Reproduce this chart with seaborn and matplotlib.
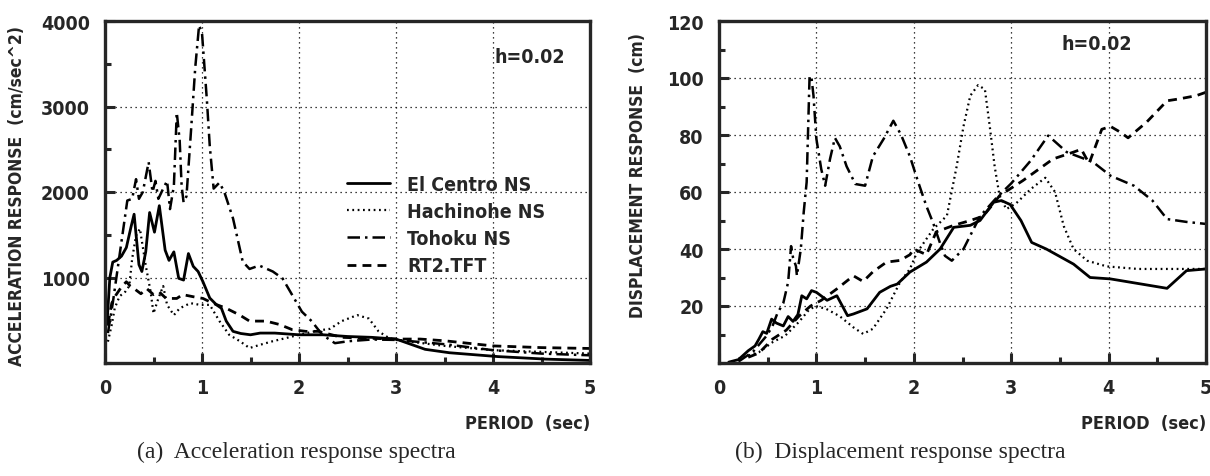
import matplotlib
matplotlib.use("Agg")
import matplotlib.pyplot as plt
from matplotlib.ticker import MultipleLocator
import seaborn as sns

# values (period in sec)
labels = ["El Centro NS", "Hachinohe NS", "Tohoku NS", "RT2.TFT"]

# --- (a) acceleration response, cm/sec^2 ---
acc_elc_t = [0.02, 0.05, 0.08, 0.12, 0.17, 0.22, 0.27, 0.3, 0.35, 0.38, 0.42, 0.46, 0.51, 0.56,
             0.62, 0.66, 0.71, 0.76, 0.81, 0.86, 0.91, 0.96, 1.01, 1.08, 1.15, 1.2, 1.25, 1.32,
             1.4, 1.5, 1.6, 1.75, 2.0, 2.25, 2.5, 2.75, 3.0, 3.1, 3.3, 3.55, 4.05, 4.55, 5.0]
acc_elc = [450, 1000, 1180, 1200, 1250, 1350, 1600, 1740, 1150, 1070, 1300, 1760, 1530, 1840,
           1320, 1200, 1300, 990, 970, 1280, 1130, 1070, 950, 760, 680, 640, 490, 370,
           345, 330, 350, 350, 330, 330, 310, 300, 280, 240, 160, 120, 75, 45, 30]

acc_hac_t = [0.03, 0.07, 0.1, 0.15, 0.21, 0.25, 0.28, 0.32, 0.36, 0.42, 0.47, 0.5, 0.55, 0.6,
             0.64, 0.71, 0.77, 0.88, 0.98, 1.08, 1.18, 1.28, 1.39, 1.49, 1.59, 1.73, 1.86, 2.0,
             2.2, 2.32, 2.44, 2.6, 2.72, 2.82, 2.93, 3.0, 3.5, 4.0, 4.5, 5.0]
acc_hac = [250, 450, 640, 780, 835, 900, 1220, 1490, 1570, 1140, 835, 580, 755, 900,
           680, 560, 640, 700, 680, 680, 490, 330, 255, 175, 210, 255, 290, 330,
           380, 400, 490, 560, 520, 370, 290, 270, 200, 150, 130, 110]

acc_toh_t = [0.03, 0.08, 0.13, 0.18, 0.23, 0.28, 0.32, 0.35, 0.39, 0.45, 0.49, 0.52, 0.55, 0.6,
             0.64, 0.67, 0.71, 0.74, 0.77, 0.79, 0.81, 0.84, 0.89, 0.93, 0.97, 1.0, 1.05, 1.08,
             1.12, 1.18, 1.23, 1.32, 1.42, 1.49, 1.59, 1.73, 1.83, 1.93, 2.03, 2.13, 2.24, 2.37,
             2.51, 2.75, 3.0, 3.5, 4.0, 4.5, 5.0]
acc_toh = [350, 700, 1100, 1500, 1900, 1920, 2150, 1920, 2000, 2350, 2000, 2130, 1920, 2040,
           2130, 1800, 2070, 2930, 2600, 2070, 1880, 1950, 2770, 3450, 3950, 3860, 3080, 2540,
           2040, 2110, 2000, 1690, 1185, 1100, 1140, 1070, 990, 795, 600, 490, 330, 232,
           255, 275, 270, 220, 150, 110, 90]

acc_rt2_t = [0.03, 0.07, 0.11, 0.17, 0.22, 0.26, 0.3, 0.37, 0.43, 0.5, 0.56, 0.63, 0.74, 0.8,
             0.91, 1.01, 1.11, 1.25, 1.39, 1.49, 1.66, 1.8, 1.93, 2.07, 2.2, 2.44, 2.7, 3.0,
             3.25, 3.5, 3.75, 4.0, 4.5, 5.0]
acc_rt2 = [450, 700, 790, 890, 950, 900, 870, 810, 870, 800, 830, 755, 755, 800,
           775, 755, 700, 640, 560, 490, 490, 450, 390, 370, 370, 300, 290, 280,
           280, 260, 230, 200, 180, 170]

# --- (b) displacement response, cm ---
dis_elc_t = [0.1, 0.2, 0.3, 0.37, 0.41, 0.45, 0.49, 0.54, 0.59, 0.66, 0.71, 0.76, 0.81, 0.85,
             0.9, 0.95, 1.0, 1.11, 1.21, 1.32, 1.38, 1.52, 1.65, 1.76, 1.83, 1.96, 2.13, 2.27,
             2.41, 2.58, 2.68, 2.82, 2.9, 2.99, 3.1, 3.21, 3.36, 3.64, 3.81, 4.02, 4.6, 4.8, 5.0]
dis_elc = [0.3, 1.2, 4.3, 6, 8.4, 11, 10.4, 15.4, 14, 13, 16.3, 14.6, 17, 23.6,
           22.5, 25.4, 24.8, 22, 23.6, 16.6, 17.2, 19, 24.8, 26.9, 27.7, 31.9, 35.4, 40,
           47.6, 48.3, 50, 56.4, 57, 55.6, 50, 42.3, 40, 34.7, 30, 29.5, 26.2, 32.4, 33]

dis_hac_t = [0.2, 0.41, 0.55, 0.68, 0.82, 0.92, 0.99, 1.1, 1.24, 1.38, 1.48, 1.58, 1.72, 1.86,
             1.96, 2.03, 2.2, 2.34, 2.44, 2.51, 2.58, 2.66, 2.73, 2.78, 2.83, 2.88, 2.95, 3.05,
             3.2, 3.35, 3.45, 3.54, 3.64, 3.78, 3.98, 4.3, 4.6, 5.0]
dis_hac = [1.5, 3.8, 7.3, 9.6, 14.4, 18.5, 20, 19, 16.4, 12.5, 10.2, 12, 19, 28.4,
           33, 38.6, 47, 51.7, 69, 83, 93.8, 97.5, 96, 83, 69, 58.7, 54, 56,
           61, 65, 60, 48, 40, 35.9, 33.9, 33, 33, 33]

dis_toh_t = [0.2, 0.35, 0.49, 0.55, 0.6, 0.66, 0.71, 0.74, 0.76, 0.79, 0.8, 0.84, 0.87, 0.9,
             0.93, 0.95, 0.97, 1.0, 1.05, 1.09, 1.14, 1.19, 1.24, 1.31, 1.4, 1.5, 1.58, 1.69,
             1.79, 1.87, 1.96, 2.04, 2.13, 2.2, 2.27, 2.32, 2.39, 2.51, 2.68, 2.85, 3.0, 3.2,
             3.38, 3.57, 3.84, 4.02, 4.26, 4.45, 4.6, 4.8, 5.0]
dis_toh = [0.5, 4, 9.6, 13, 17.5, 21, 28.4, 41, 37, 34, 30.6, 40, 53, 63.5,
           100.8, 100, 93.8, 78.6, 68, 62.2, 71.6, 79, 76, 69, 62.8, 62.2, 72.5, 78.6,
           85, 80, 72.5, 64, 55, 49, 42, 37.6, 35.9, 40, 51.5, 58, 63, 71,
           79.8, 74, 70.5, 65.7, 62.2, 57, 50.5, 49.5, 48.8]

dis_rt2_t = [0.3, 0.41, 0.55, 0.69, 0.82, 0.94, 1.05, 1.21, 1.38, 1.48, 1.58, 1.72, 1.86, 1.96,
             2.0, 2.13, 2.23, 2.41, 2.58, 2.71, 2.82, 2.88, 3.12, 3.43, 3.64, 3.72, 3.8, 3.93,
             4.02, 4.12, 4.2, 4.39, 4.6, 4.73, 4.9, 5.0]
dis_rt2 = [2, 3.5, 8.4, 11.5, 16.4, 20, 22, 26, 30.6, 28.6, 32, 35.4, 36, 38,
           40, 38, 46, 48.3, 50, 51.5, 56, 58.7, 64, 71.6, 74, 75, 70, 82,
           83, 81, 79, 84.5, 92, 92.7, 93.8, 95]

# line look for each record, same order as labels
line_styles = ["-", (0, (0.8, 1.6)), (0, (5, 2, 1, 2)), (0, (3.2, 2.2))]
line_widths = [2.0, 1.6, 1.8, 2.0]

sns.set_style("ticks")
plt.rcParams["font.family"] = ["DejaVu Sans"]
plt.rcParams["font.stretch"] = "condensed"
plt.rcParams["font.weight"] = "bold"
plt.rcParams["axes.labelweight"] = "bold"

W, H = 1210, 477
fig = plt.figure(figsize=(W / 100, H / 100), dpi=100)
ax1 = fig.add_axes([105 / W, 113 / H, 485 / W, 342 / H])
ax2 = fig.add_axes([719 / W, 113 / H, 487 / W, 342 / H])

acc = [(acc_elc_t, acc_elc), (acc_hac_t, acc_hac), (acc_toh_t, acc_toh), (acc_rt2_t, acc_rt2)]
dis = [(dis_elc_t, dis_elc), (dis_hac_t, dis_hac), (dis_toh_t, dis_toh), (dis_rt2_t, dis_rt2)]

for i, (t, v) in enumerate(acc):
    sns.lineplot(x=t, y=v, ax=ax1, color="black", linestyle=line_styles[i],
                 linewidth=line_widths[i], label=labels[i], legend=False)
for i, (t, v) in enumerate(dis):
    sns.lineplot(x=t, y=v, ax=ax2, color="black", linestyle=line_styles[i],
                 linewidth=line_widths[i], legend=False)


def dress(ax, ymax, ystep, ylabel, ylab_x, ylab_y):
    ax.set_xlim(0, 5)
    ax.set_ylim(0, ymax)
    ax.xaxis.set_major_locator(MultipleLocator(1))
    ax.xaxis.set_minor_locator(MultipleLocator(0.5))
    ax.set_yticks([ystep * k for k in range(1, 7) if ystep * k <= ymax])
    ax.yaxis.set_minor_locator(MultipleLocator(ystep / 2))
    ax.tick_params(which="major", direction="in", length=7, width=2.2, pad=11, labelsize=14)
    ax.tick_params(which="minor", direction="in", length=4.5, width=2.2)
    ax.tick_params(top=False, right=False, which="both")
    ax.grid(True, which="major", color="black", linestyle=(0, (1, 3)), linewidth=0.9)
    for s in ax.spines.values():
        s.set_linewidth(2.4)
        s.set_visible(True)
    ax.set_xlabel("PERIOD  (sec)", fontsize=13, ha="right")
    ax.xaxis.set_label_coords(1.0, -0.15)
    ax.set_ylabel(ylabel, fontsize=12.5)
    ax.yaxis.set_label_coords(ylab_x, ylab_y)


dress(ax1, 4000, 1000, "ACCELERATION RESPONSE  (cm/sec^2)", -0.163, 0.49)
dress(ax2, 120, 20, "DISPLACEMENT RESPONSE  (cm)", -0.148, 0.55)

# last x tick label of the right panel sits on the figure edge
ax2.get_xticklabels()[-1].set_ha("right")

ax1.text(0.876, 0.895, "h=0.02", transform=ax1.transAxes, ha="center", va="center", fontsize=14)
ax2.text(0.776, 0.933, "h=0.02", transform=ax2.transAxes, ha="center", va="center", fontsize=14)

ax1.legend(loc="upper left", bbox_to_anchor=(0.499, 0.55), frameon=False, fontsize=14,
           borderpad=0, borderaxespad=0, handlelength=2.2, handletextpad=0.9, labelspacing=0.42)

cap = dict(ha="center", va="center", fontsize=17, family="Liberation Serif",
           weight="normal", stretch="normal")
fig.text(296 / W, 1 - 452 / H, "(a)  Acceleration response spectra", **cap)
fig.text(900 / W, 1 - 452 / H, "(b)  Displacement response spectra", **cap)

fig.savefig("out.png", dpi=100)
